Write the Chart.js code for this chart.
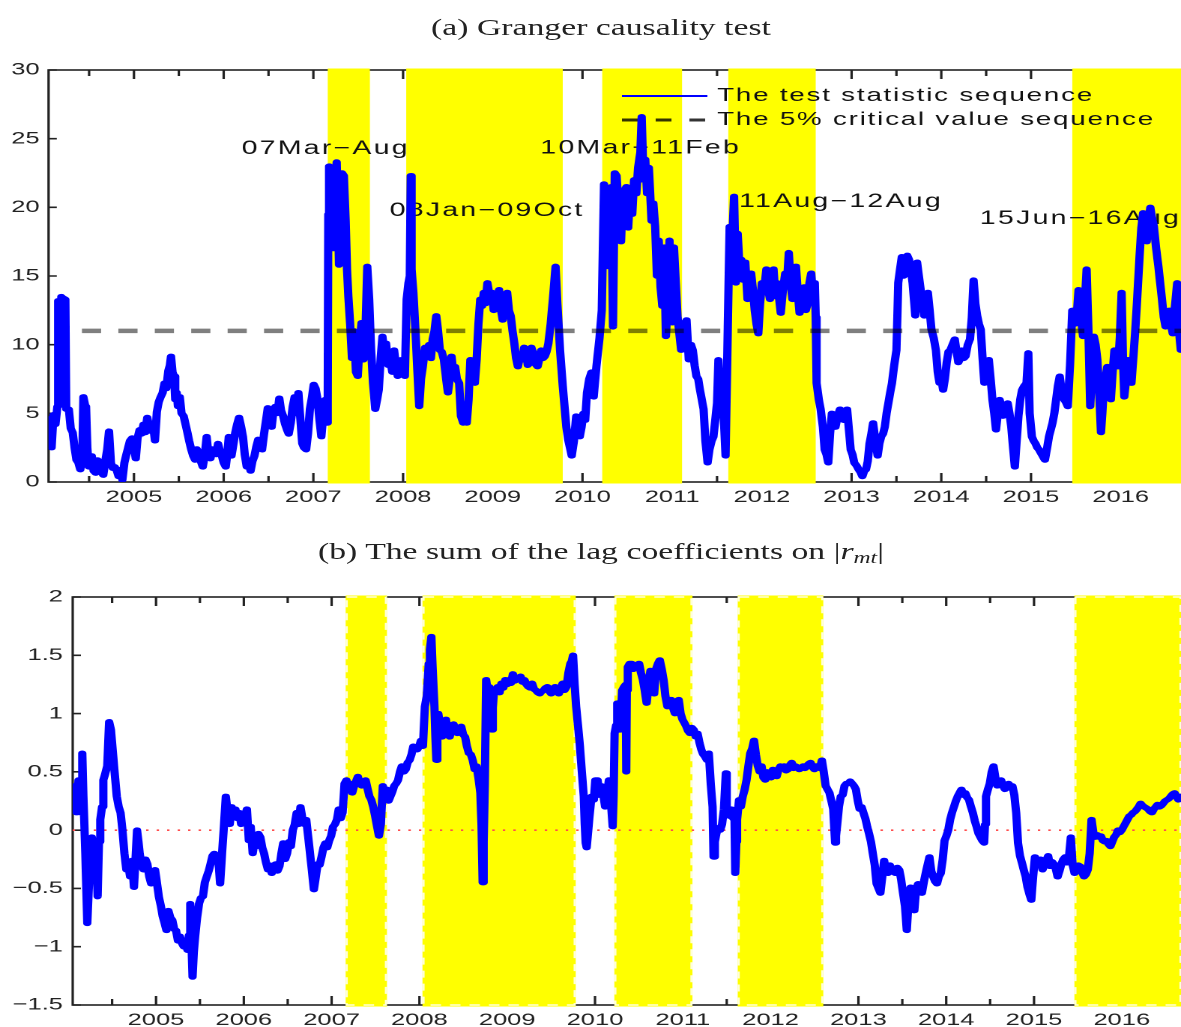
<!DOCTYPE html>
<html>
<head>
<meta charset="utf-8">
<title>Granger causality test</title>
<script src="https://cdn.jsdelivr.net/npm/chart.js@4.4.1/dist/chart.umd.min.js"></script>
<style>
  html, body { margin: 0; padding: 0; background: #fff; overflow: hidden; }
  /* the reference figure is stretched horizontally, so the whole page is too */
  #page { position: relative; width: 788px; height: 1027px; transform: scaleX(1.4987); transform-origin: 0 0; }
  .ttl { position: absolute; left: 0; width: 802px; text-align: center; font-family: "Liberation Serif", "DejaVu Serif", serif;
         font-size: 22.5px; line-height: 26px; color: #222; white-space: nowrap; }
  .ttl sub { font-size: 70%; vertical-align: -4px; line-height: 0; }
  canvas { position: absolute; left: 0; }
</style>
</head>
<body>
<div id="page">
  <div class="ttl" style="top:15px">(a) Granger causality test</div>
  <canvas id="gc" width="788" height="520" style="top:0;width:788px;height:520px"></canvas>
  <div class="ttl" style="top:539px">(b) The sum of the lag coefficients on |<i>r</i><sub><i>mt</i></sub>|</div>
  <canvas id="lag" width="788" height="487" style="top:540px;width:788px;height:487px"></canvas>
</div>
<script>
// ---- data ----
const yearTicks = [2005, 2006, 2007, 2008, 2009, 2010, 2011, 2012, 2013, 2014, 2015, 2016];

// shaded episodes (decimal years)
const bandStart = [2007.16, 2008.035, 2010.22, 2011.625, 2015.46];
const bandEnd   = [2007.63, 2009.78, 2011.11, 2012.60, 2016.68];
const bandNames = ['07Mar\u2212Aug', '08Jan\u221209Oct', '10Mar\u221211Feb', '11Aug\u221212Aug', '15Jun\u221216Aug'];
const nameX = [2006.20, 2007.85, 2009.53, 2011.745, 2014.43];
const nameY = [24.25, 19.75, 24.3, 20.4, 19.15];

// (a) test statistic
const gcYears = [
  2004.048, 2004.065, 2004.082, 2004.103, 2004.125, 2004.146, 2004.155, 2004.175, 2004.19, 2004.205,
  2004.235, 2004.245, 2004.274, 2004.295, 2004.317, 2004.34, 2004.359, 2004.38, 2004.402, 2004.425,
  2004.436, 2004.455, 2004.466, 2004.48, 2004.496, 2004.515, 2004.53, 2004.55, 2004.573, 2004.595,
  2004.615, 2004.64, 2004.658, 2004.68, 2004.701, 2004.722, 2004.743, 2004.765, 2004.786, 2004.81,
  2004.829, 2004.85, 2004.871, 2004.893, 2004.915, 2004.935, 2004.955, 2004.978, 2005.0, 2005.02,
  2005.04, 2005.063, 2005.085, 2005.106, 2005.125, 2005.148, 2005.17, 2005.191, 2005.212, 2005.234,
  2005.255, 2005.275, 2005.298, 2005.32, 2005.34, 2005.36, 2005.383, 2005.4, 2005.413, 2005.43,
  2005.447, 2005.46, 2005.477, 2005.49, 2005.511, 2005.53, 2005.554, 2005.575, 2005.596, 2005.615,
  2005.639, 2005.66, 2005.682, 2005.7, 2005.724, 2005.745, 2005.767, 2005.79, 2005.81, 2005.83,
  2005.852, 2005.875, 2005.895, 2005.915, 2005.937, 2005.96, 2005.98, 2006.0, 2006.023, 2006.04,
  2006.057, 2006.07, 2006.087, 2006.11, 2006.129, 2006.15, 2006.172, 2006.195, 2006.215, 2006.235,
  2006.257, 2006.28, 2006.3, 2006.32, 2006.343, 2006.365, 2006.385, 2006.41, 2006.428, 2006.45,
  2006.47, 2006.492, 2006.515, 2006.535, 2006.555, 2006.577, 2006.6, 2006.62, 2006.64, 2006.663,
  2006.685, 2006.706, 2006.725, 2006.748, 2006.77, 2006.791, 2006.81, 2006.833, 2006.85, 2006.876,
  2006.895, 2006.919, 2006.94, 2006.961, 2006.985, 2007.004, 2007.025, 2007.047, 2007.068, 2007.089,
  2007.11, 2007.132, 2007.15, 2007.16, 2007.166, 2007.175, 2007.195, 2007.21, 2007.226, 2007.24,
  2007.26, 2007.275, 2007.286, 2007.3, 2007.32, 2007.34, 2007.36, 2007.375, 2007.39, 2007.41,
  2007.43, 2007.452, 2007.475, 2007.495, 2007.516, 2007.537, 2007.558, 2007.58, 2007.601, 2007.622,
  2007.644, 2007.665, 2007.69, 2007.71, 2007.729, 2007.75, 2007.77, 2007.79, 2007.81, 2007.835,
  2007.855, 2007.88, 2007.9, 2007.92, 2007.94, 2007.96, 2007.98, 2008.0, 2008.02, 2008.04,
  2008.06, 2008.075, 2008.085, 2008.095, 2008.115, 2008.14, 2008.16, 2008.18, 2008.2, 2008.22,
  2008.245, 2008.265, 2008.29, 2008.31, 2008.33, 2008.35, 2008.37, 2008.39, 2008.41, 2008.43,
  2008.455, 2008.48, 2008.5, 2008.52, 2008.54, 2008.56, 2008.58, 2008.6, 2008.625, 2008.645,
  2008.67, 2008.69, 2008.71, 2008.73, 2008.75, 2008.775, 2008.8, 2008.82, 2008.84, 2008.86,
  2008.88, 2008.9, 2008.92, 2008.94, 2008.965, 2008.99, 2009.01, 2009.03, 2009.05, 2009.07,
  2009.09, 2009.11, 2009.135, 2009.16, 2009.18, 2009.2, 2009.22, 2009.24, 2009.26, 2009.28,
  2009.305, 2009.33, 2009.35, 2009.37, 2009.39, 2009.41, 2009.43, 2009.45, 2009.475, 2009.5,
  2009.52, 2009.54, 2009.56, 2009.58, 2009.6, 2009.62, 2009.645, 2009.67, 2009.7, 2009.72,
  2009.75, 2009.78, 2009.8, 2009.82, 2009.84, 2009.86, 2009.88, 2009.905, 2009.93, 2009.95,
  2009.97, 2009.99, 2010.01, 2010.03, 2010.05, 2010.075, 2010.1, 2010.125, 2010.155, 2010.19,
  2010.215, 2010.24, 2010.26, 2010.28, 2010.3, 2010.32, 2010.34, 2010.36, 2010.38, 2010.41,
  2010.43, 2010.45, 2010.49, 2010.51, 2010.53, 2010.555, 2010.575, 2010.6, 2010.62, 2010.645,
  2010.66, 2010.68, 2010.7, 2010.72, 2010.74, 2010.77, 2010.79, 2010.81, 2010.83, 2010.85,
  2010.87, 2010.89, 2010.91, 2010.93, 2010.95, 2010.97, 2011.0, 2011.02, 2011.04, 2011.06,
  2011.08, 2011.1, 2011.12, 2011.14, 2011.16, 2011.185, 2011.21, 2011.23, 2011.25, 2011.27,
  2011.29, 2011.31, 2011.33, 2011.35, 2011.37, 2011.395, 2011.415, 2011.44, 2011.46, 2011.48,
  2011.5, 2011.515, 2011.53, 2011.56, 2011.58, 2011.595, 2011.62, 2011.64, 2011.665, 2011.69,
  2011.71, 2011.73, 2011.75, 2011.77, 2011.79, 2011.815, 2011.84, 2011.86, 2011.88, 2011.9,
  2011.92, 2011.94, 2011.96, 2011.98, 2012.0, 2012.025, 2012.05, 2012.07, 2012.09, 2012.11,
  2012.13, 2012.15, 2012.17, 2012.19, 2012.21, 2012.235, 2012.26, 2012.28, 2012.3, 2012.32,
  2012.34, 2012.36, 2012.38, 2012.4, 2012.42, 2012.445, 2012.47, 2012.49, 2012.51, 2012.53,
  2012.55, 2012.57, 2012.59, 2012.6, 2012.61, 2012.635, 2012.655, 2012.68, 2012.7, 2012.72,
  2012.74, 2012.76, 2012.78, 2012.8, 2012.82, 2012.845, 2012.87, 2012.89, 2012.91, 2012.93,
  2012.95, 2012.97, 2012.99, 2013.01, 2013.03, 2013.055, 2013.08, 2013.1, 2013.12, 2013.14,
  2013.16, 2013.18, 2013.2, 2013.22, 2013.24, 2013.265, 2013.29, 2013.31, 2013.33, 2013.35,
  2013.37, 2013.39, 2013.41, 2013.43, 2013.45, 2013.475, 2013.5, 2013.52, 2013.54, 2013.56,
  2013.58, 2013.6, 2013.62, 2013.64, 2013.66, 2013.68, 2013.71, 2013.73, 2013.75, 2013.77,
  2013.79, 2013.81, 2013.83, 2013.85, 2013.87, 2013.89, 2013.915, 2013.94, 2013.96, 2013.98,
  2014.0, 2014.02, 2014.04, 2014.06, 2014.08, 2014.1, 2014.125, 2014.15, 2014.17, 2014.19,
  2014.21, 2014.23, 2014.25, 2014.27, 2014.295, 2014.32, 2014.34, 2014.36, 2014.38, 2014.4,
  2014.42, 2014.44, 2014.46, 2014.48, 2014.505, 2014.53, 2014.55, 2014.57, 2014.59, 2014.61,
  2014.63, 2014.65, 2014.67, 2014.69, 2014.715, 2014.74, 2014.76, 2014.78, 2014.8, 2014.82,
  2014.84, 2014.86, 2014.88, 2014.9, 2014.925, 2014.95, 2014.97, 2014.985, 2015.01, 2015.03,
  2015.05, 2015.07, 2015.09, 2015.12, 2015.155, 2015.18, 2015.2, 2015.22, 2015.24, 2015.26,
  2015.28, 2015.3, 2015.32, 2015.345, 2015.37, 2015.39, 2015.41, 2015.435, 2015.46, 2015.485,
  2015.51, 2015.53, 2015.555, 2015.58, 2015.6, 2015.62, 2015.64, 2015.66, 2015.68, 2015.7,
  2015.72, 2015.74, 2015.76, 2015.78, 2015.795, 2015.81, 2015.83, 2015.85, 2015.87, 2015.89,
  2015.91, 2015.93, 2015.95, 2015.97, 2015.99, 2016.01, 2016.025, 2016.04, 2016.06, 2016.08,
  2016.1, 2016.12, 2016.14, 2016.16, 2016.185, 2016.21, 2016.23, 2016.25, 2016.27, 2016.29,
  2016.31, 2016.33, 2016.35, 2016.37, 2016.395, 2016.42, 2016.44, 2016.46, 2016.48, 2016.5,
  2016.52, 2016.54, 2016.56, 2016.58, 2016.6, 2016.63, 2016.65, 2016.67, 2016.68
];
const gcStat = [
  4.6, 3.0, 2.5, 4.9, 4.2, 5.5, 13.2, 13.0, 13.5, 13.4,
  13.3, 5.3, 5.3, 3.9, 3.6, 2.4, 1.6, 1.4, 0.9, 2.0,
  6.2, 5.6, 5.5, 2.5, 1.1, 1.5, 1.9, 0.8, 0.65, 1.6,
  1.4, 0.7, 0.5, 1.5, 2.35, 3.7, 1.4, 1.0, 1.1, 0.8,
  0.4, 0.9, 0.15, 1.4, 2.0, 2.5, 3.0, 3.2, 2.5, 1.7,
  3.2, 3.8, 3.5, 4.2, 3.6, 4.7, 4.0, 3.7, 4.2, 3.0,
  5.1, 5.8, 6.2, 6.5, 7.2, 6.8, 8.1, 8.5, 9.15, 8.0,
  7.7, 6.0, 6.5, 5.5, 6.2, 5.0, 4.8, 4.2, 3.6, 3.0,
  2.35, 1.9, 1.6, 2.4, 2.1, 1.5, 1.1, 2.0, 3.3, 2.0,
  1.7, 2.4, 2.35, 2.0, 2.8, 2.2, 1.9, 1.4, 1.1, 2.0,
  3.3, 2.5, 1.9, 2.8, 3.6, 4.2, 4.7, 4.0, 3.3, 2.0,
  1.1, 1.4, 0.8, 1.5, 1.9, 2.6, 3.1, 2.9, 2.35, 3.5,
  4.4, 5.4, 4.5, 4.0, 5.2, 5.5, 5.0, 6.1, 5.2, 4.8,
  4.2, 3.8, 3.5, 4.3, 5.5, 6.2, 5.0, 6.5, 5.0, 2.8,
  2.5, 2.35, 3.5, 5.3, 6.2, 7.1, 6.8, 6.0, 4.5, 3.3,
  4.8, 6.0, 4.3, 5.5, 19.5, 23.0, 22.6, 18.0, 17.0, 21.5,
  23.3, 19.0, 15.8, 20.0, 22.5, 22.3, 19.0, 15.5, 13.5, 11.5,
  9.0, 11.0, 8.0, 7.7, 10.1, 11.6, 8.9, 10.8, 15.7, 13.3,
  9.6, 7.2, 5.3, 6.0, 6.7, 9.0, 10.6, 9.5, 10.1, 8.5,
  8.9, 8.0, 9.6, 8.5, 7.7, 8.0, 8.9, 8.0, 7.7, 13.3,
  14.5, 15.0, 22.3, 15.5, 13.8, 10.8, 8.0, 5.5, 7.5, 8.4,
  9.8, 9.6, 10.0, 9.0, 10.4, 11.0, 12.1, 11.0, 9.6, 9.5,
  8.9, 7.5, 6.5, 7.5, 9.15, 8.0, 8.4, 7.5, 7.2, 4.8,
  4.3, 4.5, 4.3, 6.0, 8.9, 8.0, 7.2, 8.9, 11.5, 13.3,
  12.8, 13.8, 13.0, 14.5, 13.5, 13.8, 12.5, 12.8, 13.2, 14.0,
  12.6, 11.8, 12.8, 13.8, 12.5, 12.1, 11.0, 10.1, 9.0, 8.4,
  9.2, 8.9, 9.8, 9.6, 8.5, 8.7, 9.8, 9.4, 8.6, 8.4,
  9.0, 9.6, 9.0, 9.15, 9.5, 10.1, 11.5, 13.3, 15.7, 13.0,
  9.6, 7.0, 5.5, 4.0, 3.1, 2.5, 1.9, 3.0, 4.8, 4.0,
  3.3, 4.0, 5.0, 4.5, 6.5, 7.5, 8.0, 6.2, 8.4, 10.5,
  12.5, 21.7, 20.0, 15.7, 17.1, 21.5, 11.3, 22.5, 22.3, 19.3,
  17.5, 21.0, 21.5, 18.5, 21.0, 19.5, 22.0, 21.0, 22.9, 24.0,
  26.6, 22.0, 23.5, 21.0, 22.9, 19.0, 20.3, 18.6, 15.0, 17.6,
  14.2, 12.8, 17.1, 10.6, 13.0, 17.6, 11.6, 17.1, 14.5, 12.0,
  10.8, 9.6, 11.6, 10.5, 11.8, 8.9, 10.0, 9.6, 8.5, 7.7,
  7.5, 6.7, 6.0, 5.3, 3.0, 1.4, 2.35, 3.0, 3.3, 4.5,
  5.75, 8.9, 7.0, 6.5, 4.0, 1.9, 11.3, 18.6, 17.0, 20.8,
  14.5, 18.1, 15.7, 16.2, 14.7, 16.0, 13.3, 14.0, 15.2, 14.0,
  12.5, 11.5, 10.8, 13.0, 14.5, 14.0, 15.5, 14.0, 13.3, 14.5,
  15.5, 13.5, 14.5, 13.5, 12.3, 14.0, 15.2, 14.5, 16.7, 14.5,
  13.3, 14.5, 15.7, 13.8, 12.3, 13.5, 14.2, 12.5, 13.0, 14.5,
  15.2, 13.5, 14.5, 12.0, 7.2, 6.0, 5.3, 4.0, 2.35, 2.0,
  1.4, 3.5, 5.0, 4.5, 4.0, 4.8, 5.3, 4.6, 4.5, 5.0,
  5.3, 3.8, 2.35, 2.0, 1.4, 1.2, 0.9, 0.7, 0.4, 0.8,
  0.9, 1.5, 2.8, 3.5, 4.3, 3.0, 1.9, 2.8, 3.3, 3.5,
  4.0, 5.0, 5.75, 6.5, 7.2, 8.5, 9.6, 14.5, 15.5, 16.4,
  15.0, 15.2, 16.5, 16.2, 15.5, 14.5, 12.1, 16.0, 15.0, 14.0,
  13.0, 12.1, 13.0, 13.8, 12.5, 11.1, 10.5, 9.6, 8.0, 7.2,
  7.5, 6.7, 7.5, 8.7, 9.5, 9.6, 10.0, 10.4, 9.5, 8.7,
  9.0, 9.6, 9.0, 9.15, 10.0, 10.4, 12.0, 14.7, 13.0, 12.1,
  11.5, 11.1, 9.0, 7.2, 8.0, 8.9, 7.5, 6.0, 5.0, 3.8,
  5.0, 6.0, 5.5, 4.8, 5.2, 5.75, 5.0, 4.0, 2.5, 1.1,
  3.0, 4.8, 6.0, 6.7, 7.0, 7.2, 9.4, 5.0, 3.3, 3.0,
  2.8, 2.5, 2.35, 2.0, 1.6, 2.5, 3.3, 3.8, 4.3, 5.0,
  6.0, 7.0, 7.7, 6.5, 6.0, 5.8, 5.5, 8.5, 12.5, 11.5,
  12.1, 14.0, 12.0, 10.6, 13.0, 15.5, 11.0, 5.5, 8.0, 10.6,
  10.0, 8.9, 6.5, 3.6, 5.0, 6.7, 7.5, 8.4, 7.0, 6.0,
  8.0, 9.6, 9.0, 8.4, 10.5, 13.8, 9.0, 6.2, 7.5, 8.9,
  8.0, 7.2, 9.0, 10.8, 13.5, 16.4, 18.5, 19.6, 18.0, 17.5,
  19.0, 20.0, 19.2, 18.6, 17.0, 15.7, 14.5, 13.3, 12.0, 11.3,
  12.0, 12.5, 11.5, 10.8, 12.5, 14.5, 11.0, 9.6, 10.0
];
// 5% critical value sequence (flat at this scale)
const critYears = [2004.42, 2016.68];
const critValue = [11.0, 11.0];

// (b) sum of the lag coefficients
const lagYears = [
  2004.051, 2004.073, 2004.095, 2004.117, 2004.135, 2004.147, 2004.16, 2004.173, 2004.195, 2004.217,
  2004.24, 2004.269, 2004.29, 2004.304, 2004.32, 2004.335, 2004.35, 2004.365, 2004.385, 2004.4,
  2004.42, 2004.444, 2004.466, 2004.487, 2004.505, 2004.522, 2004.553, 2004.575, 2004.596, 2004.618,
  2004.64, 2004.662, 2004.683, 2004.705, 2004.727, 2004.749, 2004.77, 2004.784, 2004.8, 2004.814,
  2004.836, 2004.858, 2004.88, 2004.901, 2004.923, 2004.945, 2004.967, 2004.989, 2005.01, 2005.032,
  2005.055, 2005.076, 2005.098, 2005.119, 2005.141, 2005.163, 2005.185, 2005.207, 2005.228, 2005.25,
  2005.272, 2005.295, 2005.316, 2005.34, 2005.359, 2005.375, 2005.39, 2005.405, 2005.416, 2005.43,
  2005.446, 2005.468, 2005.49, 2005.512, 2005.534, 2005.556, 2005.577, 2005.6, 2005.621, 2005.643,
  2005.664, 2005.686, 2005.708, 2005.73, 2005.752, 2005.773, 2005.795, 2005.817, 2005.84, 2005.861,
  2005.883, 2005.904, 2005.926, 2005.948, 2005.97, 2005.992, 2006.014, 2006.035, 2006.057, 2006.079,
  2006.101, 2006.122, 2006.144, 2006.166, 2006.188, 2006.21, 2006.231, 2006.253, 2006.275, 2006.296,
  2006.318, 2006.34, 2006.362, 2006.384, 2006.406, 2006.428, 2006.449, 2006.471, 2006.493, 2006.515,
  2006.536, 2006.558, 2006.58, 2006.602, 2006.625, 2006.645, 2006.667, 2006.69, 2006.711, 2006.732,
  2006.754, 2006.776, 2006.798, 2006.82, 2006.841, 2006.863, 2006.885, 2006.907, 2006.929, 2006.95,
  2006.972, 2006.994, 2007.016, 2007.038, 2007.06, 2007.081, 2007.103, 2007.125, 2007.147, 2007.169,
  2007.19, 2007.212, 2007.234, 2007.256, 2007.278, 2007.299, 2007.321, 2007.343, 2007.365, 2007.387,
  2007.408, 2007.43, 2007.452, 2007.474, 2007.496, 2007.518, 2007.539, 2007.561, 2007.583, 2007.605,
  2007.626, 2007.648, 2007.67, 2007.692, 2007.713, 2007.735, 2007.757, 2007.778, 2007.8, 2007.822,
  2007.844, 2007.866, 2007.888, 2007.91, 2007.931, 2007.953, 2007.975, 2007.997, 2008.018, 2008.04,
  2008.062, 2008.084, 2008.106, 2008.12, 2008.136, 2008.15, 2008.171, 2008.182, 2008.193, 2008.204,
  2008.215, 2008.236, 2008.258, 2008.28, 2008.302, 2008.323, 2008.345, 2008.367, 2008.389, 2008.411,
  2008.433, 2008.455, 2008.476, 2008.498, 2008.52, 2008.541, 2008.563, 2008.585, 2008.607, 2008.629,
  2008.651, 2008.672, 2008.694, 2008.707, 2008.72, 2008.732, 2008.745, 2008.76, 2008.778, 2008.795,
  2008.81, 2008.825, 2008.836, 2008.847, 2008.869, 2008.891, 2008.913, 2008.934, 2008.956, 2008.978,
  2009.0, 2009.021, 2009.043, 2009.065, 2009.087, 2009.108, 2009.13, 2009.152, 2009.174, 2009.196,
  2009.218, 2009.239, 2009.261, 2009.283, 2009.305, 2009.326, 2009.348, 2009.37, 2009.392, 2009.414,
  2009.435, 2009.457, 2009.479, 2009.501, 2009.523, 2009.545, 2009.566, 2009.588, 2009.61, 2009.632,
  2009.653, 2009.675, 2009.697, 2009.719, 2009.735, 2009.75, 2009.768, 2009.785, 2009.806, 2009.828,
  2009.85, 2009.872, 2009.883, 2009.894, 2009.905, 2009.916, 2009.935, 2009.96, 2009.987, 2010.003,
  2010.03, 2010.05, 2010.072, 2010.095, 2010.115, 2010.137, 2010.158, 2010.18, 2010.201, 2010.212,
  2010.223, 2010.24, 2010.253, 2010.287, 2010.309, 2010.33, 2010.35, 2010.356, 2010.362, 2010.373,
  2010.395, 2010.416, 2010.438, 2010.459, 2010.48, 2010.502, 2010.523, 2010.545, 2010.566, 2010.588,
  2010.61, 2010.631, 2010.652, 2010.674, 2010.695, 2010.717, 2010.738, 2010.76, 2010.781, 2010.802,
  2010.824, 2010.845, 2010.867, 2010.888, 2010.91, 2010.931, 2010.953, 2010.975, 2010.996, 2011.018,
  2011.039, 2011.06, 2011.082, 2011.103, 2011.125, 2011.147, 2011.168, 2011.19, 2011.211, 2011.232,
  2011.253, 2011.275, 2011.296, 2011.318, 2011.339, 2011.35, 2011.365, 2011.382, 2011.403, 2011.425,
  2011.447, 2011.468, 2011.49, 2011.5, 2011.511, 2011.533, 2011.554, 2011.575, 2011.589, 2011.597,
  2011.61, 2011.618, 2011.64, 2011.661, 2011.683, 2011.705, 2011.726, 2011.747, 2011.768, 2011.79,
  2011.811, 2011.832, 2011.854, 2011.876, 2011.897, 2011.918, 2011.94, 2011.961, 2011.983, 2012.004,
  2012.026, 2012.047, 2012.069, 2012.09, 2012.112, 2012.133, 2012.155, 2012.176, 2012.198, 2012.22,
  2012.241, 2012.262, 2012.284, 2012.305, 2012.327, 2012.348, 2012.37, 2012.391, 2012.412, 2012.434,
  2012.455, 2012.477, 2012.498, 2012.52, 2012.541, 2012.562, 2012.584, 2012.605, 2012.627, 2012.648,
  2012.67, 2012.692, 2012.713, 2012.724, 2012.735, 2012.745, 2012.756, 2012.778, 2012.799, 2012.82,
  2012.842, 2012.863, 2012.885, 2012.906, 2012.928, 2012.95, 2012.971, 2012.993, 2013.014, 2013.036,
  2013.057, 2013.079, 2013.1, 2013.121, 2013.143, 2013.164, 2013.186, 2013.207, 2013.229, 2013.25,
  2013.272, 2013.293, 2013.315, 2013.336, 2013.358, 2013.379, 2013.4, 2013.422, 2013.443, 2013.465,
  2013.486, 2013.508, 2013.53, 2013.551, 2013.572, 2013.594, 2013.615, 2013.637, 2013.658, 2013.68,
  2013.701, 2013.723, 2013.744, 2013.766, 2013.787, 2013.809, 2013.83, 2013.852, 2013.873, 2013.895,
  2013.916, 2013.938, 2013.96, 2013.981, 2014.002, 2014.023, 2014.045, 2014.066, 2014.088, 2014.11,
  2014.131, 2014.152, 2014.174, 2014.196, 2014.217, 2014.238, 2014.26, 2014.282, 2014.303, 2014.325,
  2014.346, 2014.368, 2014.389, 2014.41, 2014.432, 2014.442, 2014.453, 2014.475, 2014.496, 2014.518,
  2014.539, 2014.56, 2014.582, 2014.604, 2014.625, 2014.647, 2014.668, 2014.69, 2014.711, 2014.732,
  2014.754, 2014.776, 2014.797, 2014.818, 2014.84, 2014.862, 2014.883, 2014.905, 2014.926, 2014.948,
  2014.969, 2014.99, 2015.011, 2015.033, 2015.054, 2015.076, 2015.097, 2015.118, 2015.14, 2015.161,
  2015.183, 2015.204, 2015.226, 2015.247, 2015.269, 2015.29, 2015.312, 2015.333, 2015.355, 2015.376,
  2015.398, 2015.419, 2015.44, 2015.462, 2015.484, 2015.505, 2015.527, 2015.548, 2015.57, 2015.591,
  2015.612, 2015.634, 2015.655, 2015.676, 2015.698, 2015.72, 2015.741, 2015.762, 2015.784, 2015.806,
  2015.827, 2015.848, 2015.87, 2015.891, 2015.913, 2015.935, 2015.956, 2015.978, 2015.999, 2016.02,
  2016.042, 2016.063, 2016.085, 2016.106, 2016.128, 2016.15, 2016.171, 2016.192, 2016.214, 2016.236,
  2016.257, 2016.278, 2016.3, 2016.321, 2016.343, 2016.364, 2016.386, 2016.407, 2016.429, 2016.45,
  2016.472, 2016.493, 2016.515, 2016.536, 2016.558, 2016.58, 2016.601, 2016.622, 2016.644, 2016.665,
  2016.678
];
const lagSum = [
  0.30, 0.38, 0.15, 0.43, 0.20, 0.15, 0.66, 0.29, -0.20, -0.80,
  -0.40, -0.06, -0.15, -0.34, -0.20, -0.57, -0.10, 0.09, 0.20, 0.43,
  0.48, 0.55, 0.93, 0.86, 0.70, 0.55, 0.29, 0.20, 0.15, 0.00,
  -0.20, -0.34, -0.30, -0.40, -0.26, -0.49, -0.20, 0.00, -0.10, -0.20,
  -0.30, -0.34, -0.25, -0.29, -0.40, -0.46, -0.38, -0.34, -0.45, -0.57,
  -0.65, -0.74, -0.80, -0.86, -0.69, -0.75, -0.77, -0.85, -0.86, -0.95,
  -0.91, -0.97, -1.00, -0.98, -1.03, -0.90, -0.63, -1.00, -1.26, -1.05,
  -0.91, -0.75, -0.63, -0.58, -0.57, -0.45, -0.40, -0.35, -0.29, -0.22,
  -0.20, -0.25, -0.23, -0.46, -0.20, 0.03, 0.29, 0.15, 0.05, 0.20,
  0.12, 0.18, 0.10, 0.15, 0.05, 0.09, 0.12, 0.18, -0.09, 0.03,
  -0.20, -0.10, -0.14, -0.03, -0.06, -0.15, -0.20, -0.28, -0.34, -0.30,
  -0.37, -0.32, -0.29, -0.35, -0.31, -0.20, -0.11, -0.25, -0.20, -0.10,
  -0.14, 0.00, 0.05, 0.15, 0.05, 0.20, 0.10, 0.05, 0.09, -0.05,
  -0.20, -0.35, -0.51, -0.40, -0.29, -0.30, -0.23, -0.15, -0.11, -0.15,
  -0.09, -0.05, 0.03, 0.05, 0.09, 0.18, 0.10, 0.15, 0.40, 0.43,
  0.36, 0.40, 0.32, 0.38, 0.42, 0.46, 0.40, 0.38, 0.41, 0.43,
  0.36, 0.29, 0.26, 0.20, 0.12, 0.03, -0.05, 0.05, 0.38, 0.30,
  0.35, 0.25, 0.29, 0.33, 0.38, 0.40, 0.43, 0.50, 0.55, 0.50,
  0.52, 0.58, 0.60, 0.65, 0.72, 0.70, 0.69, 0.72, 0.77, 0.72,
  1.06, 1.15, 1.43, 1.55, 1.66, 1.40, 1.06, 0.80, 0.60, 0.85,
  1.00, 0.90, 0.80, 0.85, 0.95, 0.85, 0.80, 0.88, 0.91, 0.85,
  0.83, 0.86, 0.89, 0.82, 0.80, 0.72, 0.66, 0.65, 0.60, 0.52,
  0.55, 0.45, 0.32, 0.05, -0.45, -0.10, 0.40, 1.29, 1.20, 1.23,
  1.00, 0.86, 1.05, 1.17, 1.20, 1.23, 1.18, 1.26, 1.22, 1.29,
  1.25, 1.29, 1.26, 1.34, 1.28, 1.29, 1.30, 1.32, 1.27, 1.29,
  1.25, 1.23, 1.22, 1.26, 1.21, 1.20, 1.18, 1.17, 1.19, 1.20,
  1.22, 1.23, 1.19, 1.17, 1.20, 1.23, 1.19, 1.17, 1.22, 1.26,
  1.20, 1.23, 1.35, 1.43, 1.45, 1.50, 1.25, 1.06, 0.90, 0.72,
  0.50, 0.29, 0.05, -0.11, -0.15, -0.06, 0.10, 0.29, 0.26, 0.43,
  0.43, 0.30, 0.38, 0.30, 0.20, 0.30, 0.43, 0.25, 0.03, 0.30,
  0.83, 0.90, 1.09, 0.86, 1.20, 1.23, 1.25, 0.50, 1.20, 1.40,
  1.43, 1.43, 1.38, 1.40, 1.42, 1.43, 1.35, 1.29, 1.20, 1.09,
  1.25, 1.37, 1.30, 1.17, 1.38, 1.43, 1.46, 1.38, 1.29, 1.15,
  1.06, 1.12, 1.12, 1.05, 1.00, 1.10, 1.12, 1.00, 0.95, 0.92,
  0.89, 0.85, 0.83, 0.88, 0.86, 0.80, 0.83, 0.75, 0.69, 0.65,
  0.63, 0.60, 0.66, 0.40, 0.20, -0.23, -0.10, -0.03, 0.02, 0.00,
  0.05, 0.18, 0.49, 0.15, 0.15, 0.12, 0.18, 0.10, 0.09, -0.37,
  -0.10, 0.09, 0.26, 0.20, 0.29, 0.35, 0.43, 0.55, 0.66, 0.70,
  0.77, 0.65, 0.55, 0.50, 0.55, 0.45, 0.43, 0.50, 0.49, 0.45,
  0.52, 0.50, 0.46, 0.52, 0.55, 0.53, 0.55, 0.51, 0.52, 0.56,
  0.58, 0.53, 0.55, 0.54, 0.52, 0.53, 0.55, 0.53, 0.55, 0.57,
  0.58, 0.54, 0.52, 0.55, 0.55, 0.53, 0.60, 0.50, 0.38, 0.35,
  0.32, 0.25, 0.18, 0.03, -0.11, -0.05, 0.03, 0.20, 0.29, 0.30,
  0.38, 0.40, 0.40, 0.42, 0.40, 0.38, 0.35, 0.25, 0.18, 0.20,
  0.15, 0.10, 0.03, -0.03, -0.10, -0.20, -0.30, -0.46, -0.50, -0.54,
  -0.40, -0.26, -0.35, -0.37, -0.30, -0.34, -0.36, -0.37, -0.32, -0.34,
  -0.42, -0.54, -0.65, -0.86, -0.60, -0.49, -0.60, -0.69, -0.50, -0.46,
  -0.50, -0.54, -0.45, -0.37, -0.30, -0.23, -0.35, -0.40, -0.44, -0.46,
  -0.40, -0.37, -0.25, -0.09, -0.05, 0.00, 0.09, 0.15, 0.20, 0.25,
  0.29, 0.32, 0.35, 0.30, 0.32, 0.28, 0.26, 0.20, 0.15, 0.08,
  0.03, -0.03, -0.06, -0.09, -0.11, 0.05, 0.29, 0.35, 0.40, 0.50,
  0.55, 0.45, 0.38, 0.42, 0.43, 0.38, 0.35, 0.38, 0.40, 0.36,
  0.38, 0.30, 0.15, -0.11, -0.22, -0.28, -0.34, -0.40, -0.49, -0.55,
  -0.60, -0.40, -0.23, -0.30, -0.29, -0.25, -0.34, -0.30, -0.26, -0.22,
  -0.31, -0.27, -0.29, -0.33, -0.40, -0.35, -0.29, -0.25, -0.23, -0.28,
  -0.23, -0.06, -0.30, -0.37, -0.34, -0.30, -0.31, -0.36, -0.40, -0.38,
  -0.34, -0.20, 0.09, -0.02, -0.06, -0.04, -0.06, -0.05, -0.09, -0.10,
  -0.09, -0.12, -0.14, -0.10, -0.06, -0.04, 0.00, -0.02, 0.00, 0.03,
  0.06, 0.09, 0.12, 0.13, 0.15, 0.16, 0.18, 0.20, 0.23, 0.21,
  0.20, 0.19, 0.18, 0.16, 0.15, 0.18, 0.20, 0.22, 0.20, 0.21,
  0.23, 0.25, 0.26, 0.27, 0.29, 0.31, 0.32, 0.29, 0.26, 0.29,
  0.28
];
const zeroYears = [2004.051, 2016.678];
const zeroLine = [0, 0];

// ---- drawing helpers ----
const tickFont = { family: "'Liberation Sans', Arial, sans-serif", size: 17, lineHeight: 1 };
const ink = '#222';

function points(xs, ys) {
  return xs.map((x, i) => ({ x: x, y: ys[i] }));
}

// MATLAB-like box with inward ticks, major on years, minor on half years
function drawBox(chart) {
  const { ctx, chartArea: a, scales: { x, y } } = chart;
  ctx.save();
  ctx.strokeStyle = ink;
  ctx.lineWidth = 1.6;
  ctx.strokeRect(a.left, a.top, a.right - a.left, a.bottom - a.top);
  ctx.beginPath();
  x.ticks.forEach(t => {
    const px = x.getPixelForValue(t.value);
    ctx.moveTo(px, a.bottom); ctx.lineTo(px, a.bottom - 9);
    ctx.moveTo(px, a.top); ctx.lineTo(px, a.top + 9);
    const mx = x.getPixelForValue(t.value - 0.5);
    if (mx > a.left) {
      ctx.moveTo(mx, a.bottom); ctx.lineTo(mx, a.bottom - 6);
      ctx.moveTo(mx, a.top); ctx.lineTo(mx, a.top + 6);
    }
  });
  const last = x.getPixelForValue(yearTicks[yearTicks.length - 1] + 0.5);
  if (last < a.right) {
    ctx.moveTo(last, a.bottom); ctx.lineTo(last, a.bottom - 6);
    ctx.moveTo(last, a.top); ctx.lineTo(last, a.top + 6);
  }
  y.ticks.forEach(t => {
    const py = y.getPixelForValue(t.value);
    ctx.moveTo(a.left, py); ctx.lineTo(a.left + 5.5, py);
    ctx.moveTo(a.right, py); ctx.lineTo(a.right - 5.5, py);
  });
  ctx.stroke();
  ctx.restore();
}

function drawBands(chart, dashedEdge) {
  const { ctx, chartArea: a, scales: { x } } = chart;
  ctx.save();
  bandStart.forEach((s, i) => {
    const x0 = x.getPixelForValue(s);
    const x1 = Math.min(x.getPixelForValue(bandEnd[i]), a.right + 2);
    ctx.fillStyle = '#ffff00';
    ctx.fillRect(x0, a.top - 1.5, x1 - x0, a.bottom - a.top + 3);
    if (dashedEdge) {
      ctx.strokeStyle = 'rgba(255,255,255,0.85)';
      ctx.lineWidth = 1.4;
      ctx.setLineDash([7, 6]);
      ctx.strokeRect(x0 + 0.7, a.top, x1 - x0 - 1.4, a.bottom - a.top);
      ctx.setLineDash([]);
    }
  });
  ctx.restore();
}

function drawNotes(chart) {
  const { ctx, chartArea: a, scales: { x, y } } = chart;
  ctx.save();
  ctx.fillStyle = '#111';
  ctx.font = "19px 'Liberation Sans', Arial, sans-serif";
  ctx.letterSpacing = '1.5px';
  ctx.textBaseline = 'middle';
  ctx.textAlign = 'left';
  bandNames.forEach((t, i) => ctx.fillText(t, x.getPixelForValue(nameX[i]), y.getPixelForValue(nameY[i])));

  // legend, top right inside the axes
  const lx = a.right - 373;
  ctx.font = "18.5px 'Liberation Sans', Arial, sans-serif";
  ctx.letterSpacing = '1.2px';
  ctx.strokeStyle = '#0000ff';
  ctx.lineWidth = 2;
  ctx.beginPath(); ctx.moveTo(lx, a.top + 26); ctx.lineTo(lx + 57, a.top + 26); ctx.stroke();
  ctx.strokeStyle = 'rgba(0,0,0,0.8)';
  ctx.lineWidth = 3;
  ctx.setLineDash([10.5, 12]);
  ctx.beginPath(); ctx.moveTo(lx, a.top + 50); ctx.lineTo(lx + 57, a.top + 50); ctx.stroke();
  ctx.setLineDash([]);
  ctx.fillText('The test statistic sequence', lx + 63.5, a.top + 26);
  ctx.fillText('The 5% critical value sequence', lx + 63.5, a.top + 50);
  ctx.restore();
}

function yearAxis(lo, hi, h) {
  return {
    type: 'linear', min: lo, max: hi,
    grid: { display: false, drawTicks: false }, border: { display: false },
    afterBuildTicks: s => { s.ticks = yearTicks.map(v => ({ value: v })); },
    ticks: { font: tickFont, color: ink, padding: 7, maxRotation: 0, autoSkip: false, callback: v => String(v) },
    afterFit: s => { s.height = h; }
  };
}

const common = {
  responsive: false,
  devicePixelRatio: 2,
  animation: false,
  events: [],
  plugins: { legend: { display: false }, tooltip: { enabled: false } },
  elements: { point: { radius: 0 }, line: { tension: 0 } }
};

// ---- (a) ----
new Chart(document.getElementById('gc'), {
  type: 'line',
  data: {
    datasets: [
      {
        label: 'The 5% critical value sequence',
        data: points(critYears, critValue),
        borderColor: 'rgba(0,0,0,0.5)', borderWidth: 4.5, borderDash: [12.8, 11.5]
      },
      {
        label: 'The test statistic sequence',
        data: points(gcYears, gcStat),
        borderColor: '#0000ff', borderWidth: 5.5, borderJoinStyle: 'round', borderCapStyle: 'round'
      }
    ]
  },
  options: Object.assign({}, common, {
    layout: { padding: { top: 70, left: 0, right: 0, bottom: 0 } },
    scales: {
      x: yearAxis(2004.048, 2016.672, 38),
      y: {
        min: 0, max: 30,
        grid: { display: false, drawTicks: false }, border: { display: false },
        ticks: { stepSize: 5, font: tickFont, color: ink, padding: 6 },
        afterFit: s => { s.width = 32.4; }
      }
    }
  }),
  plugins: [{
    id: 'frameA',
    beforeDatasetsDraw(chart) { drawBox(chart); drawBands(chart, false); drawNotes(chart); }
  }]
});

// ---- (b) ----
new Chart(document.getElementById('lag'), {
  type: 'line',
  data: {
    datasets: [
      {
        label: 'Sum of lag coefficients',
        data: points(lagYears, lagSum),
        borderColor: '#0000ff', borderWidth: 5.5, borderJoinStyle: 'round', borderCapStyle: 'round'
      },
      {
        label: 'zero',
        data: points(zeroYears, zeroLine),
        borderColor: '#ff4d4d', borderWidth: 1.6, borderDash: [1.6, 5.4]
      }
    ]
  },
  options: Object.assign({}, common, {
    layout: { padding: { top: 57, left: 0, right: 0, bottom: 0 } },
    scales: {
      x: yearAxis(2004.051, 2016.674, 22),
      y: {
        min: -1.5, max: 2,
        grid: { display: false, drawTicks: false }, border: { display: false },
        ticks: { stepSize: 0.5, font: tickFont, color: ink, padding: 6.5,
                 callback: v => String(v).replace('-', '\u2212') },
        afterFit: s => { s.width = 48.5; }
      }
    }
  }),
  plugins: [{
    id: 'frameB',
    beforeDatasetsDraw(chart) { drawBox(chart); drawBands(chart, true); }
  }]
});
</script>
</body>
</html>
